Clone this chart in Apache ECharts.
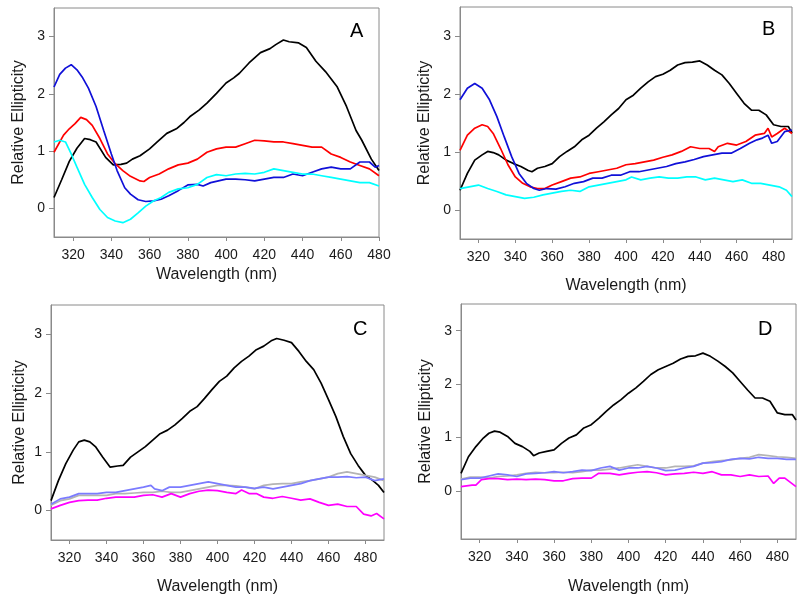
<!DOCTYPE html>
<html>
<head>
<meta charset="utf-8">
<script src="https://cdn.jsdelivr.net/npm/echarts@6/dist/echarts.min.js"></script>
<style>
html,body{margin:0;padding:0;background:#fff;}
#chart{width:800px;height:602px;}
</style>
</head>
<body>
<div id="chart"></div>
<script>
// ---------- DATA ----------
const xTicks = [320, 340, 360, 380, 400, 420, 440, 460, 480];
const yTicks = [0, 1, 2, 3];
const panelLetters = ['A', 'B', 'C', 'D'];
const xTitle = 'Wavelength (nm)';
const yTitle = 'Relative Ellipticity';

// Panel A
const A_black = [[310,0.19],[314,0.5],[318,0.82],[322,1.05],[326,1.22],[329,1.2],[332,1.16],[337,0.89],[341,0.76],[345,0.77],[348,0.79],[351,0.86],[355,0.92],[360,1.04],[364,1.16],[369,1.31],[374,1.39],[378,1.5],[381,1.6],[386,1.72],[390,1.84],[395,2.01],[400,2.19],[404,2.28],[407,2.36],[412,2.54],[418,2.72],[423,2.79],[426,2.86],[430,2.94],[433,2.91],[438,2.89],[442,2.81],[447,2.57],[452,2.39],[458,2.13],[463,1.78],[468,1.36],[471,1.19],[476,0.86],[480,0.66]];
const A_red = [[310,0.98],[315,1.28],[318,1.39],[321,1.48],[324,1.59],[327,1.55],[330,1.45],[334,1.22],[338,0.95],[342,0.78],[346,0.66],[350,0.56],[355,0.48],[357,0.47],[360,0.54],[365,0.6],[370,0.69],[375,0.76],[380,0.79],[385,0.86],[390,0.98],[395,1.04],[400,1.07],[405,1.07],[410,1.13],[415,1.19],[420,1.18],[425,1.16],[430,1.16],[435,1.13],[440,1.1],[445,1.07],[450,1.07],[455,0.95],[460,0.89],[465,0.81],[470,0.75],[475,0.69],[480,0.57]];
const A_blue = [[310,2.12],[313,2.34],[316,2.45],[319,2.51],[322,2.42],[325,2.28],[328,2.1],[332,1.78],[336,1.36],[340,0.95],[343,0.66],[347,0.36],[350,0.25],[354,0.15],[358,0.12],[362,0.13],[366,0.16],[370,0.22],[375,0.31],[380,0.41],[385,0.42],[388,0.39],[392,0.45],[396,0.48],[400,0.51],[405,0.51],[410,0.5],[415,0.48],[420,0.51],[425,0.54],[430,0.54],[435,0.6],[440,0.57],[445,0.63],[450,0.69],[455,0.72],[460,0.69],[465,0.69],[470,0.81],[475,0.81],[478,0.72],[480,0.75]];
const A_cyan = [[310,1.16],[313,1.19],[316,1.16],[319,0.95],[322,0.72],[326,0.42],[330,0.19],[334,-0.02],[338,-0.16],[342,-0.22],[346,-0.25],[350,-0.19],[354,-0.08],[358,0.04],[362,0.13],[366,0.19],[370,0.28],[375,0.34],[380,0.36],[385,0.42],[390,0.54],[395,0.59],[400,0.57],[405,0.6],[410,0.61],[415,0.6],[420,0.63],[425,0.69],[430,0.66],[435,0.63],[440,0.6],[445,0.6],[450,0.57],[455,0.54],[460,0.51],[465,0.48],[470,0.45],[475,0.45],[480,0.39]];

// Panel B
const B_black = [[310,0.34],[314,0.63],[318,0.86],[322,0.95],[325,1.01],[328,0.99],[331,0.95],[335,0.86],[339,0.8],[343,0.75],[347,0.68],[349,0.66],[352,0.72],[356,0.75],[360,0.8],[364,0.92],[368,1.01],[372,1.09],[376,1.21],[380,1.29],[384,1.41],[388,1.52],[392,1.64],[396,1.75],[400,1.9],[404,1.98],[408,2.1],[412,2.21],[416,2.3],[420,2.34],[424,2.41],[428,2.5],[432,2.54],[436,2.55],[440,2.57],[444,2.5],[448,2.41],[452,2.33],[456,2.18],[460,2.01],[464,1.84],[468,1.72],[472,1.72],[476,1.64],[480,1.47],[484,1.44],[488,1.44],[490,1.33]];
const B_red = [[310,1.03],[314,1.29],[318,1.41],[322,1.47],[325,1.44],[328,1.32],[332,1.06],[336,0.78],[340,0.57],[344,0.46],[348,0.4],[352,0.37],[356,0.37],[360,0.43],[365,0.49],[370,0.55],[375,0.57],[380,0.63],[385,0.66],[390,0.69],[395,0.72],[400,0.78],[405,0.8],[410,0.83],[415,0.86],[420,0.91],[425,0.95],[430,1.01],[435,1.09],[440,1.06],[445,1.06],[448,1.01],[450,1.09],[455,1.15],[460,1.12],[465,1.18],[470,1.29],[475,1.32],[477,1.41],[479,1.26],[482,1.32],[486,1.41],[490,1.32]];
const B_blue = [[310,1.9],[314,2.1],[318,2.18],[322,2.1],[326,1.9],[330,1.61],[334,1.26],[338,0.92],[342,0.63],[346,0.46],[350,0.37],[353,0.34],[357,0.37],[362,0.36],[367,0.4],[372,0.46],[377,0.49],[382,0.55],[387,0.55],[392,0.6],[397,0.6],[402,0.66],[407,0.66],[412,0.69],[417,0.72],[422,0.75],[427,0.8],[432,0.83],[437,0.87],[442,0.92],[447,0.95],[452,0.98],[457,0.98],[462,1.06],[467,1.15],[471,1.21],[474,1.24],[477,1.29],[479,1.15],[482,1.18],[486,1.35],[490,1.38]];
const B_cyan = [[310,0.37],[315,0.4],[320,0.43],[325,0.37],[330,0.32],[335,0.26],[340,0.23],[345,0.2],[350,0.22],[355,0.26],[360,0.29],[365,0.32],[370,0.34],[375,0.32],[380,0.4],[385,0.43],[390,0.46],[395,0.49],[400,0.52],[403,0.57],[408,0.52],[413,0.55],[418,0.57],[423,0.55],[428,0.55],[433,0.57],[438,0.57],[443,0.52],[448,0.55],[453,0.52],[458,0.49],[463,0.52],[468,0.46],[473,0.46],[478,0.43],[483,0.4],[487,0.34],[490,0.23]];

// Panel C
const C_black = [[310,0.17],[314,0.51],[318,0.8],[322,1.03],[325,1.17],[328,1.2],[331,1.17],[334,1.09],[338,0.91],[342,0.74],[346,0.76],[349,0.77],[353,0.91],[357,1.0],[361,1.09],[365,1.2],[369,1.31],[373,1.37],[377,1.46],[381,1.57],[385,1.69],[389,1.77],[393,1.91],[397,2.06],[401,2.2],[405,2.29],[409,2.43],[413,2.54],[417,2.63],[421,2.74],[425,2.8],[429,2.89],[432,2.93],[436,2.9],[440,2.86],[444,2.71],[448,2.54],[452,2.4],[456,2.17],[460,1.89],[464,1.6],[468,1.26],[472,0.97],[476,0.77],[480,0.6],[484,0.51],[487,0.43],[490,0.31]];
const C_magenta = [[310,0.03],[315,0.09],[320,0.14],[325,0.17],[330,0.18],[335,0.18],[340,0.21],[345,0.23],[350,0.23],[355,0.23],[360,0.26],[365,0.27],[370,0.23],[375,0.29],[380,0.23],[385,0.29],[390,0.33],[395,0.35],[400,0.34],[405,0.31],[410,0.29],[413,0.35],[417,0.29],[421,0.29],[425,0.23],[430,0.21],[435,0.24],[440,0.21],[445,0.18],[450,0.2],[455,0.14],[460,0.09],[465,0.11],[470,0.07],[475,0.07],[479,-0.06],[483,-0.09],[486,-0.05],[490,-0.14]];
const C_lightblue = [[310,0.11],[315,0.2],[320,0.23],[325,0.29],[330,0.29],[335,0.29],[340,0.31],[345,0.31],[350,0.34],[355,0.37],[360,0.4],[364,0.43],[366,0.37],[370,0.34],[374,0.4],[380,0.4],[385,0.43],[390,0.46],[395,0.49],[400,0.46],[405,0.43],[410,0.4],[415,0.4],[420,0.38],[425,0.4],[430,0.37],[435,0.4],[440,0.43],[445,0.46],[450,0.51],[455,0.54],[460,0.57],[465,0.57],[470,0.58],[475,0.56],[480,0.57],[485,0.51],[490,0.54]];
const C_gray = [[310,0.09],[315,0.17],[320,0.2],[325,0.26],[330,0.26],[335,0.26],[340,0.26],[345,0.29],[350,0.29],[355,0.3],[360,0.31],[365,0.31],[370,0.33],[375,0.31],[380,0.31],[385,0.34],[390,0.37],[395,0.4],[400,0.43],[405,0.43],[410,0.42],[415,0.4],[420,0.37],[425,0.43],[430,0.45],[435,0.46],[440,0.46],[445,0.49],[450,0.51],[455,0.54],[460,0.57],[465,0.63],[470,0.66],[475,0.63],[480,0.6],[485,0.57],[490,0.51]];

// Panel D
const D_black = [[310,0.33],[314,0.64],[318,0.83],[322,0.99],[325,1.08],[328,1.12],[331,1.1],[335,1.02],[339,0.89],[343,0.83],[347,0.74],[349,0.66],[352,0.71],[356,0.74],[360,0.77],[364,0.89],[368,0.99],[372,1.05],[376,1.18],[380,1.24],[384,1.36],[388,1.49],[392,1.61],[396,1.71],[400,1.83],[404,1.93],[408,2.05],[412,2.18],[416,2.27],[420,2.33],[424,2.39],[428,2.47],[432,2.52],[436,2.53],[440,2.58],[444,2.52],[448,2.43],[452,2.33],[456,2.21],[460,2.05],[464,1.89],[468,1.74],[472,1.74],[476,1.68],[480,1.46],[484,1.43],[488,1.43],[490,1.33]];
const D_magenta = [[310,0.08],[316,0.11],[318,0.11],[321,0.21],[325,0.23],[330,0.23],[335,0.21],[340,0.22],[345,0.21],[350,0.22],[355,0.21],[360,0.19],[365,0.19],[370,0.23],[375,0.24],[380,0.24],[384,0.33],[390,0.33],[395,0.3],[400,0.33],[405,0.35],[410,0.36],[415,0.34],[420,0.3],[425,0.32],[430,0.33],[435,0.35],[440,0.33],[445,0.36],[450,0.3],[455,0.3],[460,0.27],[465,0.3],[470,0.27],[475,0.28],[478,0.14],[481,0.24],[484,0.24],[487,0.16],[490,0.08]];
const D_lightblue = [[310,0.21],[315,0.24],[320,0.24],[325,0.28],[330,0.32],[335,0.3],[340,0.27],[345,0.32],[350,0.33],[355,0.34],[360,0.36],[365,0.34],[370,0.36],[375,0.39],[380,0.38],[385,0.43],[390,0.46],[395,0.39],[400,0.43],[405,0.43],[410,0.46],[415,0.43],[420,0.38],[425,0.39],[430,0.43],[435,0.46],[440,0.52],[445,0.53],[450,0.55],[455,0.59],[460,0.61],[465,0.6],[470,0.63],[475,0.61],[480,0.61],[485,0.59],[490,0.59]];
const D_gray = [[310,0.22],[315,0.26],[320,0.26],[325,0.24],[330,0.27],[335,0.28],[340,0.3],[345,0.33],[350,0.35],[355,0.34],[360,0.34],[365,0.35],[370,0.34],[375,0.36],[380,0.39],[385,0.39],[390,0.41],[395,0.43],[400,0.46],[405,0.49],[410,0.46],[415,0.43],[420,0.43],[425,0.46],[430,0.46],[435,0.47],[440,0.52],[445,0.55],[450,0.57],[455,0.58],[460,0.61],[465,0.63],[470,0.68],[475,0.66],[480,0.64],[485,0.63],[490,0.61]];

// ---------- LAYOUT / STYLE ----------
const FONT = '"Liberation Sans", Arial, sans-serif';
const TXT = '#1a1a1a';
const AX = '#8a8a8a';
const panels = [
  {grid:{left:54, top:8, width:325, height:229}, xr:[310,480], yr:[-0.5,3.5], xGap:30, yGap:27, lx:358, ly:32,
   series:[[A_black,'#000000'],[A_red,'#ff0000'],[A_blue,'#1010d8'],[A_cyan,'#00ffff']]},
  {grid:{left:460, top:7, width:332, height:232}, xr:[310,490], yr:[-0.5,3.5], xGap:39, yGap:27, lx:770, ly:30,
   series:[[B_black,'#000000'],[B_red,'#ff0000'],[B_blue,'#1010d8'],[B_cyan,'#00ffff']]},
  {grid:{left:51, top:305, width:333, height:235}, xr:[310,490], yr:[-0.5,3.5], xGap:39, yGap:23, lx:361, ly:330,
   series:[[C_black,'#000000'],[C_gray,'#b4b4b4'],[C_lightblue,'#7b7bff'],[C_magenta,'#ff00ff']]},
  {grid:{left:461, top:304, width:335, height:235}, xr:[310,490], yr:[-0.9,3.5], xGap:40, yGap:27, lx:766, ly:330,
   series:[[D_black,'#000000'],[D_gray,'#b4b4b4'],[D_lightblue,'#7b7bff'],[D_magenta,'#ff00ff']]}
];

const grids = [], xAxes = [], yAxes = [], series = [], graphics = [];
panels.forEach((p, i) => {
  grids.push(Object.assign({show:true, borderColor:AX, borderWidth:1, backgroundColor:'transparent', containLabel:false}, p.grid));
  xAxes.push({
    type:'value', gridIndex:i, min:p.xr[0], max:p.xr[1],
    name:xTitle, nameLocation:'middle', nameGap:p.xGap,
    nameTextStyle:{fontFamily:FONT, fontSize:16, color:TXT},
    axisLine:{show:true, onZero:false, lineStyle:{color:AX, width:1}},
    axisTick:{show:true, inside:false, length:4, customValues:xTicks, lineStyle:{color:AX}},
    axisLabel:{show:true, margin:11, customValues:xTicks, fontFamily:FONT, fontSize:14, color:TXT},
    splitLine:{show:false}
  });
  yAxes.push({
    type:'value', gridIndex:i, min:p.yr[0], max:p.yr[1],
    name:yTitle, nameLocation:'middle', nameGap:p.yGap, nameRotate:90,
    nameTextStyle:{fontFamily:FONT, fontSize:16, color:TXT},
    axisLine:{show:true, onZero:false, lineStyle:{color:AX, width:1}},
    axisTick:{show:true, inside:false, length:5, customValues:yTicks, lineStyle:{color:AX}},
    axisLabel:{show:true, margin:9, customValues:yTicks, fontFamily:FONT, fontSize:14, color:TXT},
    splitLine:{show:false}
  });
  p.series.forEach(([data, color]) => {
    series.push({
      type:'line', xAxisIndex:i, yAxisIndex:i, data:data,
      showSymbol:false, symbol:'none', silent:true,
      lineStyle:{color:color, width:1.7}, clip:true
    });
  });
  graphics.push({
    type:'text', left:p.lx - 8, top:p.ly - 11,
    style:{text:panelLetters[i], font:'20px ' + FONT, fill:'#000'}
  });
});

const chart = echarts.init(document.getElementById('chart'), null, {renderer:'canvas'});
chart.setOption({
  animation:false,
  backgroundColor:'#ffffff',
  grid:grids, xAxis:xAxes, yAxis:yAxes, series:series, graphic:graphics
});
</script>
</body>
</html>
